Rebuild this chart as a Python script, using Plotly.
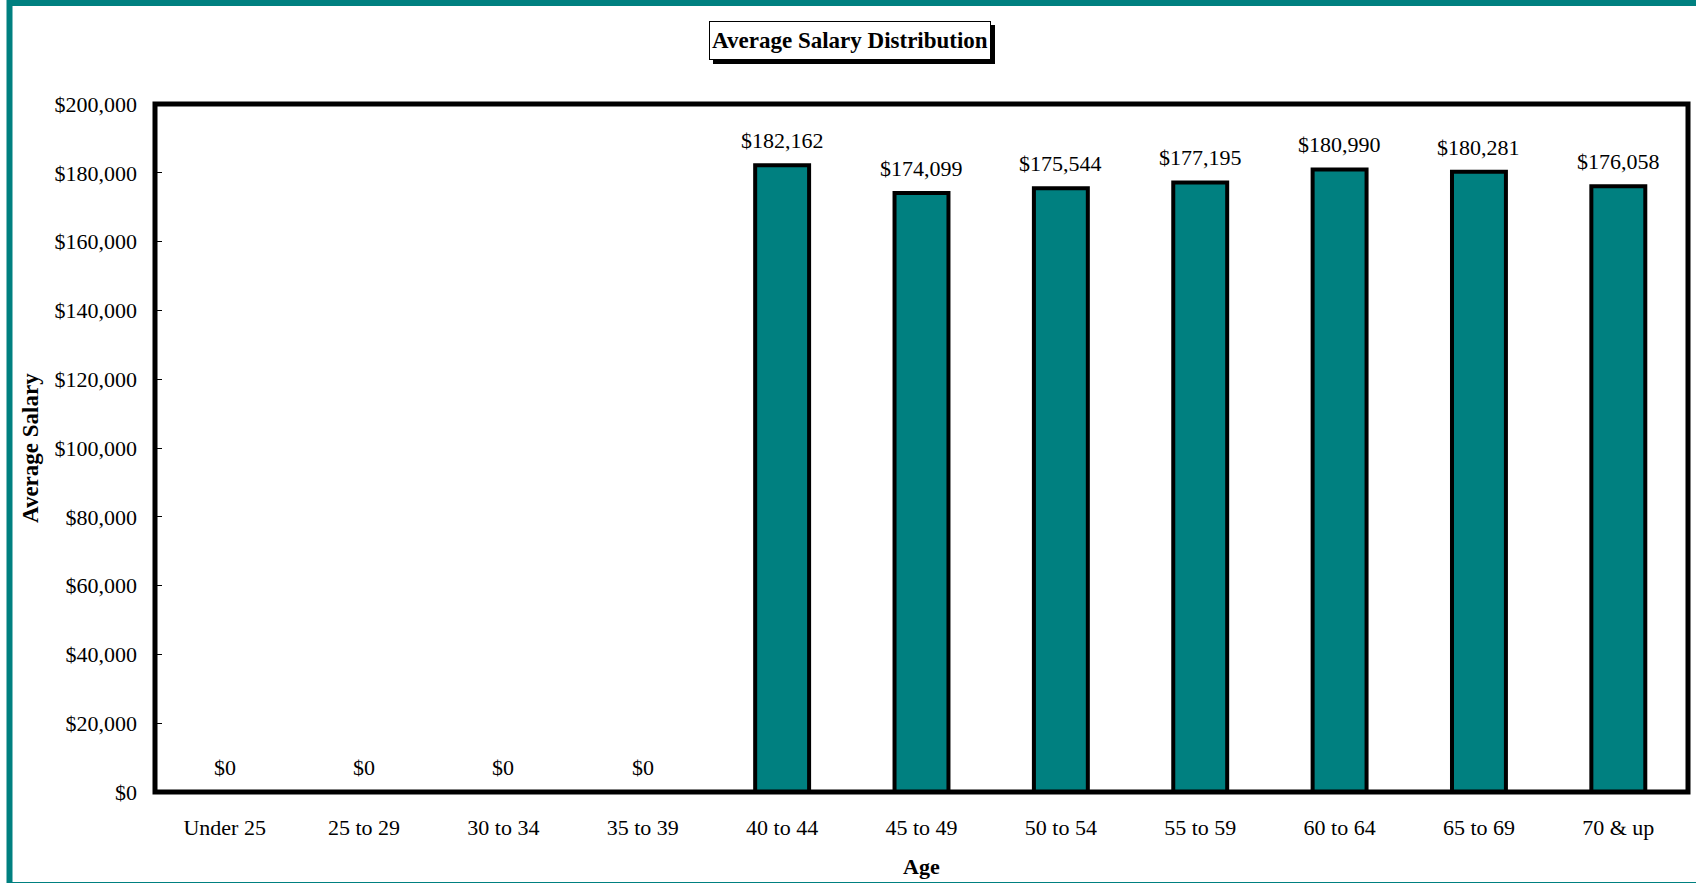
import plotly.graph_objects as go

# ---- data ----
categories = ["Under 25", "25 to 29", "30 to 34", "35 to 39", "40 to 44", "45 to 49",
              "50 to 54", "55 to 59", "60 to 64", "65 to 69", "70 & up"]
avg_salary = [0, 0, 0, 0, 182162, 174099, 175544, 177195, 180990, 180281, 176058]
y_tick_vals = [0, 20000, 40000, 60000, 80000, 100000, 120000, 140000, 160000, 180000, 200000]
title_text = "Average Salary Distribution"
x_title = "Age"
y_title = "Average Salary"

W, H = 1696, 883
ML, MR, MT, MB = 155, 8, 104, 91
PW, PH = W - ML - MR, H - MT - MB

def px_x(x):
    return (x - ML) / PW

def px_y(y):
    return (H - MB - y) / PH

FONT = "Liberation Serif, Times New Roman, serif"
TEAL = "#008080"

fig = go.Figure()
fig.add_trace(go.Bar(
    x=categories, y=avg_salary,
    marker=dict(color=TEAL, line=dict(color="black", width=4)),
    hoverinfo="skip",
))

annotations = []
for c, v in zip(categories, avg_salary):
    annotations.append(dict(
        x=c, y=v, xref="x", yref="y", text=f"${v:,}", showarrow=False,
        yanchor="bottom", yshift=10, font=dict(family=FONT, size=22, color="black"),
    ))

# title with box
annotations.append(dict(
    x=px_x(850), y=px_y(40.5), xref="paper", yref="paper", xanchor="center", yanchor="middle",
    text="<b>" + title_text + "</b>", showarrow=False,
    font=dict(family=FONT, size=23, color="black"),
    bgcolor="white", bordercolor="black", borderwidth=1, borderpad=1,
    width=278, height=35,
))
# y axis title
annotations.append(dict(
    x=px_x(30), y=0.5, xref="paper", yref="paper", xanchor="center", yanchor="middle",
    text="<b>" + y_title + "</b>", textangle=-90, showarrow=False,
    font=dict(family=FONT, size=23, color="black"),
))
# x axis title
annotations.append(dict(
    x=0.5, y=px_y(866), xref="paper", yref="paper", xanchor="center", yanchor="middle",
    text="<b>" + x_title + "</b>", showarrow=False,
    font=dict(family=FONT, size=22, color="black"),
))

shapes = [
    # page frame (teal)
    dict(type="rect", xref="paper", yref="paper",
         x0=px_x(9.5), x1=px_x(1702), y0=px_y(885), y1=px_y(3),
         line=dict(color=TEAL, width=6), fillcolor="rgba(0,0,0,0)", layer="below"),
    # plot frame (black, centred on plot edges)
    dict(type="rect", xref="paper", yref="paper", x0=0, x1=1, y0=0, y1=1,
         line=dict(color="black", width=5), fillcolor="rgba(0,0,0,0)", layer="above"),
    # title shadow
    dict(type="rect", xref="paper", yref="paper",
         x0=px_x(713), x1=px_x(995), y0=px_y(64), y1=px_y(25),
         line=dict(width=0), fillcolor="black", layer="above"),
]

fig.update_layout(
    width=W, height=H,
    margin=dict(l=ML, r=MR, t=MT, b=MB, autoexpand=False),
    paper_bgcolor="white", plot_bgcolor="white",
    showlegend=False,
    bargap=0.613,
    font=dict(family=FONT, size=22, color="black"),
    annotations=annotations,
    shapes=shapes,
    xaxis=dict(
        showgrid=False, zeroline=False, showline=False,
        ticks="", tickfont=dict(family=FONT, size=22, color="black"),
        ticklabelstandoff=20, fixedrange=True,
    ),
    yaxis=dict(
        range=[0, 200000], tickvals=y_tick_vals,
        ticktext=[f"${v:,}" for v in y_tick_vals],
        showgrid=False, zeroline=False, showline=False,
        ticks="inside", ticklen=7, tickwidth=1, tickcolor="black",
        tickfont=dict(family=FONT, size=22, color="black"),
        ticklabelstandoff=17, fixedrange=True,
    ),
)

fig.write_html(
    "out.html",
    config={"displayModeBar": False},
    post_script="document.body.style.margin='0px';document.documentElement.style.overflow='hidden';",
)
